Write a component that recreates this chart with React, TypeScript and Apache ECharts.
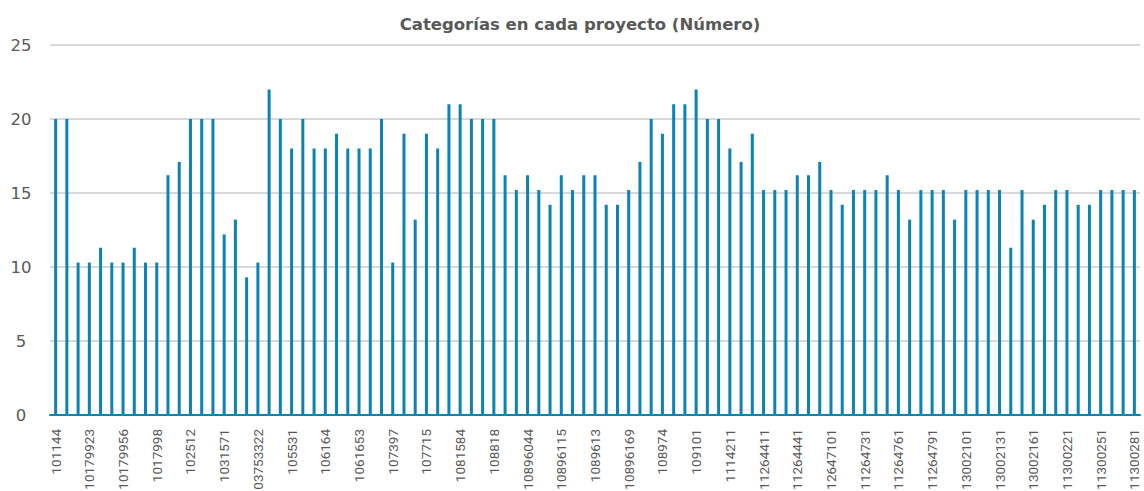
import React, { useEffect, useRef } from "react";
import * as echarts from "echarts";

const titleText = "Categorías en cada proyecto (Número)";

const projects: string[] = [
  "101144", "10115", "1017991", "10179923", "10179934", "10179945", "10179956", "10179967", "10179978", "1017998",
  "1017999", "102246", "102512", "102774", "1031423", "1031571", "1031648", "103562", "103753322", "104115",
  "105223", "105531", "105847", "106018", "106164", "1061621", "1061637", "1061653", "1061669", "107181",
  "107397", "107445", "107602", "107715", "108021", "1081563", "1081584", "1081598", "108552", "108818",
  "1089121", "10896022", "10896044", "10896066", "10896088", "10896115", "10896118", "1089612", "1089613", "10896141",
  "10896155", "10896169", "1089623", "108965", "108974", "108988", "109012", "109101", "109284", "110452",
  "1114211", "1126431", "1126440", "11264411", "11264421", "11264431", "11264441", "11264451", "11264461", "112647101",
  "112647111", "112647121", "11264731", "11264741", "11264751", "11264761", "11264771", "11264781", "11264791", "113002081",
  "113002091", "113002101", "113002111", "113002121", "113002131", "113002141", "113002151", "113002161", "113002171", "113002181",
  "11300221", "11300231", "11300241", "11300251", "11300261", "11300271", "11300281",
];

const categoryCounts: number[] = [
  20, 20, 10.3, 10.3, 11.3, 10.3, 10.3, 11.3, 10.3, 10.3,
  16.2, 17.1, 20, 20, 20, 12.2, 13.2, 9.3, 10.3, 22,
  20, 18, 20, 18, 18, 19, 18, 18, 18, 20,
  10.3, 19, 13.2, 19, 18, 21, 21, 20, 20, 20,
  16.2, 15.2, 16.2, 15.2, 14.2, 16.2, 15.2, 16.2, 16.2, 14.2,
  14.2, 15.2, 17.1, 20, 19, 21, 21, 22, 20, 20,
  18, 17.1, 19, 15.2, 15.2, 15.2, 16.2, 16.2, 17.1, 15.2,
  14.2, 15.2, 15.2, 15.2, 16.2, 15.2, 13.2, 15.2, 15.2, 15.2,
  13.2, 15.2, 15.2, 15.2, 15.2, 11.3, 15.2, 13.2, 14.2, 15.2,
  15.2, 14.2, 14.2, 15.2, 15.2, 15.2, 15.2,
];

const yMin = 0;
const yMax = 25;
const yStep = 5;

export default function App() {
  const ref = useRef<HTMLDivElement>(null);
  useEffect(() => {
    if (!ref.current) return;
    const chart = echarts.init(ref.current, null, { renderer: "svg" });
    chart.setOption({
      animation: false,
      backgroundColor: "#ffffff",
      graphic: [
        {
          type: "text",
          x: 580,
          y: 24,
          style: {
            text: titleText,
            fill: "#595959",
            font: "bold 16.5px 'DejaVu Sans', sans-serif",
            textAlign: "center",
            textVerticalAlign: "middle",
          },
        },
      ],
      grid: {
        left: 50,
        right: 4,
        top: 45,
        bottom: 76,
        containLabel: false,
        outerBoundsMode: "none",
      },
      xAxis: {
        type: "category",
        data: projects,
        axisLine: { show: true, lineStyle: { color: "#0a84b4", width: 2 } },
        axisTick: { show: false },
        axisLabel: {
          interval: 2,
          rotate: 90,
          margin: 14,
          color: "#595959",
          fontSize: 13.5,
          fontFamily: "Roboto, sans-serif",
        },
      },
      yAxis: {
        type: "value",
        min: yMin,
        max: yMax,
        interval: yStep,
        axisLine: { show: false },
        axisTick: { show: false },
        splitLine: { lineStyle: { color: "#d9d9d9", width: 2 } },
        axisLabel: {
          align: "center",
          margin: 29,
          color: "#595959",
          fontSize: 16.5,
          fontFamily: "'DejaVu Sans', sans-serif",
        },
      },
      series: [
        {
          type: "bar",
          data: categoryCounts,
          barWidth: 3,
          itemStyle: { color: "#0a84b4" },
        },
      ],
    });
    return () => chart.dispose();
  }, []);
  return (
    <div
      ref={ref}
      style={{ position: "fixed", left: 0, top: 0, width: 1144, height: 491 }}
    />
  );
}
